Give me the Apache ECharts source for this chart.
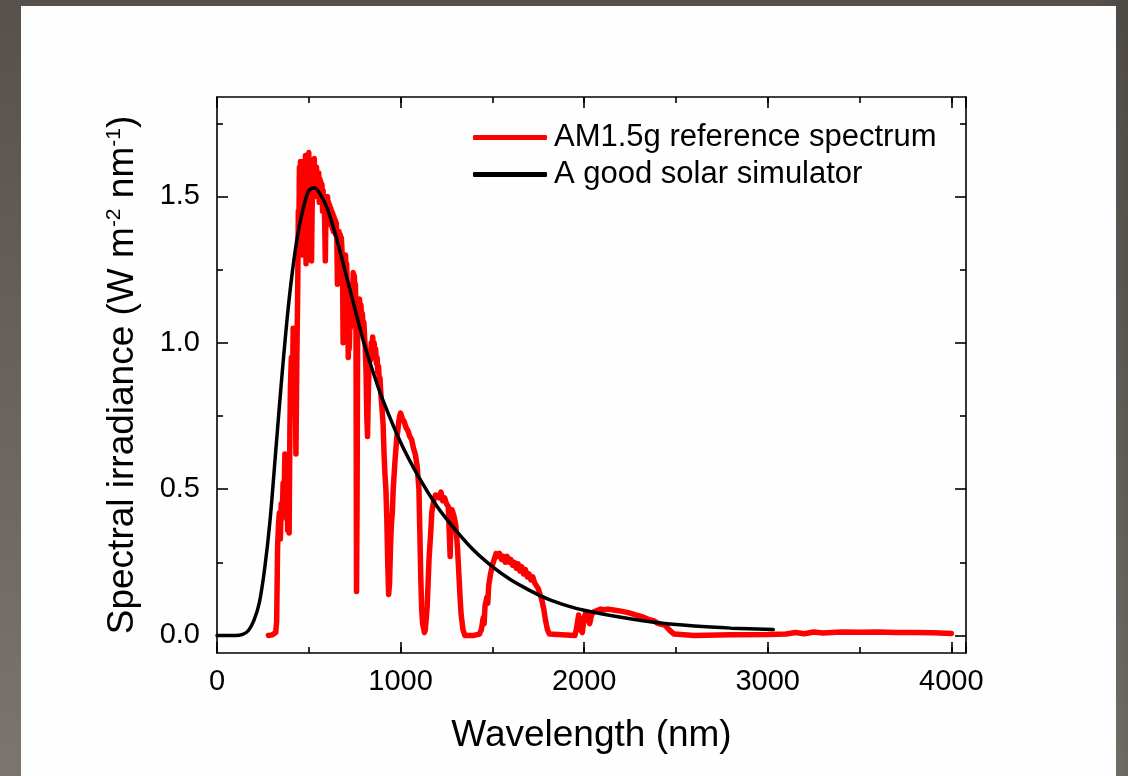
<!DOCTYPE html>
<html>
<head>
<meta charset="utf-8">
<script src="https://cdn.jsdelivr.net/npm/echarts@6/dist/echarts.min.js"></script>
<style>
html,body{margin:0;padding:0;width:1128px;height:776px;overflow:hidden;
background:linear-gradient(90deg,rgba(0,0,0,0) 97%,rgba(0,0,0,0.12)),linear-gradient(180deg,#56514c,#7a756f);}
#chart{position:absolute;left:21px;top:6px;width:1095px;height:770px;background:#fefefe;}
</style>
</head>
<body>
<div id="chart"></div>
<script>
const xTickLabels = [0, 1000, 2000, 3000, 4000];
const yTickLabels = [0, 0.5, 1.0, 1.5];
const yMinorTicks = [0.25, 0.75, 1.25, 1.75];
const seriesNames = ['AM1.5g reference spectrum', 'A good solar simulator'];

const redWavelength = [280,300,320,325,330,335,340,345,350,355,360,365,370,375,380,385,390,393,397,400,405,410,415,420,425,430,435,
440,443,446,449,452,455,458,461,464,467,470,473,476,479,482,485,488,491,494,497,500,503,506,509,512,515,518,521,524,527,530,533,536,539,542,545,548,551,554,557,560,563,566,569,572,575,578,581,584,587,590,593,596,599,602,605,608,611,614,617,620,623,626,629,632,635,638,641,644,647,650,653,656,659,662,665,668,671,674,677,680,684,687,690,693,696,700,703,706,709,712,715,718,721,724,727,730,733,736,739,742,745,748,751,754,757,760,763,766,769,772,776,780,784,788,792,796,800,804,808,812,816,820,824,828,832,836,840,844,848,852,856,860,864,868,872,876,880,884,888,892,896,900,
905,910,915,920,925,930,935,940,945,950,955,960,965,970,975,980,985,990,995,1000,1010,1020,1030,1040,1050,1060,1070,1080,1090,1100,1105,1110,1115,1120,1130,1135,1140,1145,1150,1155,1160,1165,1170,1180,1190,1200,1210,1220,1230,1240,1250,1260,1270,1275,1280,1290,1300,1305,1310,1315,1320,1325,1330,1340,1350,1400,1430,1440,1450,1455,1460,1470,1475,1480,1490,1500,1510,1520,1530,1540,1550,1560,1570,1580,1590,1600,1610,1620,1630,1640,1650,1660,1670,1680,1690,1700,1710,1720,1730,1740,1750,1760,1770,1780,1790,1800,1810,1820,1950,1960,1970,1975,1980,1990,2000,2010,2020,2030,2040,2050,2070,2090,2110,2130,2160,2200,2240,2280,2320,2350,2380,2400,2420,2440,2450,2470,2490,2500,2600,2800,3000,3100,3150,3200,3250,3300,3350,3400,3500,3600,3700,3800,3900,4000];
const redIrradiance = [0,0.002,0.01,0.05,0.3,0.38,0.42,0.33,0.45,0.4,0.52,0.47,0.62,0.5,0.58,0.36,0.6,0.35,0.7,0.85,0.95,0.8,1.05,0.9,0.98,0.62,0.95,
1.2,1.45,1.38,1.6,1.52,1.62,1.48,1.6,1.3,1.55,1.62,1.5,1.6,1.55,1.64,1.27,1.48,1.6,1.52,1.62,1.65,1.55,1.6,1.5,1.6,1.28,1.45,1.55,1.5,1.6,1.63,1.5,1.57,1.52,1.6,1.52,1.58,1.5,1.58,1.48,1.56,1.5,1.55,1.48,1.54,1.45,1.52,1.46,1.5,1.4,1.28,1.42,1.48,1.45,1.5,1.44,1.48,1.42,1.47,1.41,1.46,1.4,1.45,1.39,1.44,1.38,1.43,1.38,1.42,1.37,1.41,1.35,1.2,1.38,1.34,1.38,1.33,1.37,1.32,1.36,1.33,1.25,1.0,1.15,1.3,1.26,1.3,1.24,1.27,1.2,1.1,0.95,1.02,0.98,1.08,1.05,1.14,1.1,1.2,1.18,1.24,1.2,1.23,1.18,1.2,1.1,0.15,0.45,1.0,1.14,1.1,1.15,1.1,1.13,1.08,1.1,1.05,1.07,1.02,0.98,0.9,0.75,0.68,0.82,0.92,0.97,0.94,1.0,0.97,1.02,0.98,1.0,0.95,0.98,0.93,0.95,0.9,0.92,0.87,0.88,0.83,0.8,0.8,
0.72,0.62,0.55,0.5,0.4,0.25,0.14,0.18,0.3,0.38,0.42,0.5,0.55,0.6,0.64,0.68,0.7,0.73,0.75,0.76,0.74,0.73,0.71,0.7,0.68,0.67,0.64,0.62,0.58,0.5,0.35,0.2,0.09,0.04,0.01,0.02,0.06,0.1,0.18,0.26,0.31,0.36,0.42,0.46,0.48,0.48,0.47,0.49,0.46,0.47,0.45,0.44,0.27,0.4,0.43,0.41,0.38,0.34,0.3,0.24,0.18,0.12,0.07,0.02,0.0,0.0,0.005,0.02,0.06,0.04,0.1,0.13,0.11,0.17,0.21,0.24,0.26,0.28,0.27,0.28,0.26,0.27,0.25,0.27,0.25,0.26,0.24,0.25,0.23,0.245,0.22,0.235,0.21,0.225,0.2,0.21,0.19,0.2,0.18,0.185,0.16,0.14,0.12,0.09,0.05,0.02,0.005,0.0,0.0,0.03,0.07,0.05,0.02,0.01,0.06,0.08,0.06,0.04,0.07,0.08,0.085,0.09,0.088,0.09,0.087,0.083,0.078,0.07,0.063,0.055,0.05,0.042,0.038,0.035,0.03,0.015,0.005,0.0,0.0,0.002,0.003,0.005,0.01,0.006,0.012,0.008,0.01,0.012,0.011,0.012,0.01,0.01,0.009,0.007];

const blackWavelength = [0,100,140,170,200,230,260,290,320,350,380,410,440,470,500,530,560,600,650,700,750,800,850,900,1000,1100,1200,1300,1400,1500,1600,1700,1800,1900,2000,2200,2400,2600,2800,3030];
const blackIrradiance = [0,0,0.004,0.016,0.05,0.11,0.23,0.4,0.63,0.86,1.07,1.24,1.37,1.46,1.52,1.53,1.51,1.46,1.36,1.24,1.12,1.0,0.9,0.81,0.66,0.54,0.44,0.36,0.29,0.235,0.19,0.155,0.125,0.103,0.086,0.062,0.043,0.032,0.025,0.02];

const redData = redWavelength.map((w, i) => [w, redIrradiance[i]]);
const blackData = blackWavelength.map((w, i) => [w, blackIrradiance[i]]);

const FONT = 'Liberation Sans, Arial, sans-serif';
const X_MIN = 0, X_MAX = 4080, Y_MIN = -0.06, Y_MAX = 1.84;
const axisLineStyle = {color: '#000', width: 1.6};

function xAx(pos, len, interval, showLabel, showLine) {
  return {
    type: 'value', position: pos, min: X_MIN, max: X_MAX, interval: interval,
    axisLine: {show: showLine, onZero: false, lineStyle: axisLineStyle},
    axisTick: {show: true, inside: true, length: len, lineStyle: {color: '#000', width: 1.6}},
    axisLabel: {show: showLabel, margin: 14, color: '#000', fontSize: 29, fontFamily: FONT,
      customValues: showLabel ? xTickLabels : undefined, formatter: v => String(v)},
    splitLine: {show: false}
  };
}
function yAx(pos, len, ticks, showLabel, showLine) {
  return {
    type: 'value', position: pos, min: Y_MIN, max: Y_MAX,
    axisLine: {show: showLine, onZero: false, lineStyle: axisLineStyle},
    axisTick: {show: true, inside: true, length: len, customValues: ticks, lineStyle: {color: '#000', width: 1.6}},
    axisLabel: {show: showLabel, margin: 17, color: '#000', fontSize: 29, fontFamily: FONT,
      customValues: ticks, formatter: v => Number(v).toFixed(1)},
    splitLine: {show: false}
  };
}

const xMain = xAx('bottom', 11, 1000, true, true);
xMain.name = 'Wavelength (nm)';
xMain.nameLocation = 'middle';
xMain.nameGap = 64;
xMain.nameTextStyle = {color: '#000', fontSize: 37, fontFamily: FONT};

const yMain = yAx('left', 11, yTickLabels, true, true);
yMain.name = 'Spectral irradiance (W m{sup|-2} nm{sup|-1})';
yMain.nameLocation = 'middle';
yMain.nameGap = 76;
yMain.nameTextStyle = {color: '#000', fontSize: 37, fontFamily: FONT,
  rich: {sup: {fontSize: 21, fontFamily: FONT, color: '#000', verticalAlign: 'top', padding: [0, 0, 16, 0]}}};

const chart = echarts.init(document.getElementById('chart'));
chart.setOption({
  animation: false,
  backgroundColor: '#fefefe',
  grid: {left: 196, top: 91, width: 749, height: 556},
  legend: {
    orient: 'vertical', left: 447, top: 108, itemWidth: 74, itemHeight: 5, itemGap: 0,
    icon: 'roundRect',
    textStyle: {color: '#000', fontSize: 31, fontFamily: FONT, lineHeight: 37, padding: [0, 0, 0, 2]},
    data: seriesNames
  },
  xAxis: [
    xMain,
    xAx('bottom', 6, 500, false, false),
    xAx('top', 11, 1000, false, true),
    xAx('top', 6, 500, false, false)
  ],
  yAxis: [
    yMain,
    yAx('left', 6, yMinorTicks, false, false),
    yAx('right', 11, yTickLabels, false, true),
    yAx('right', 6, yMinorTicks, false, false)
  ],
  series: [
    {name: seriesNames[0], type: 'line', xAxisIndex: 0, yAxisIndex: 0, data: redData,
      showSymbol: false, symbol: 'none', color: '#ff0000',
      lineStyle: {color: '#ff0000', width: 5.5, join: 'round', cap: 'round'}, z: 2},
    {name: seriesNames[1], type: 'line', xAxisIndex: 0, yAxisIndex: 0, data: blackData,
      showSymbol: false, symbol: 'none', smooth: 0.3, color: '#000',
      lineStyle: {color: '#000', width: 3.5, cap: 'round'}, z: 3}
  ]
});
</script>
</body>
</html>
